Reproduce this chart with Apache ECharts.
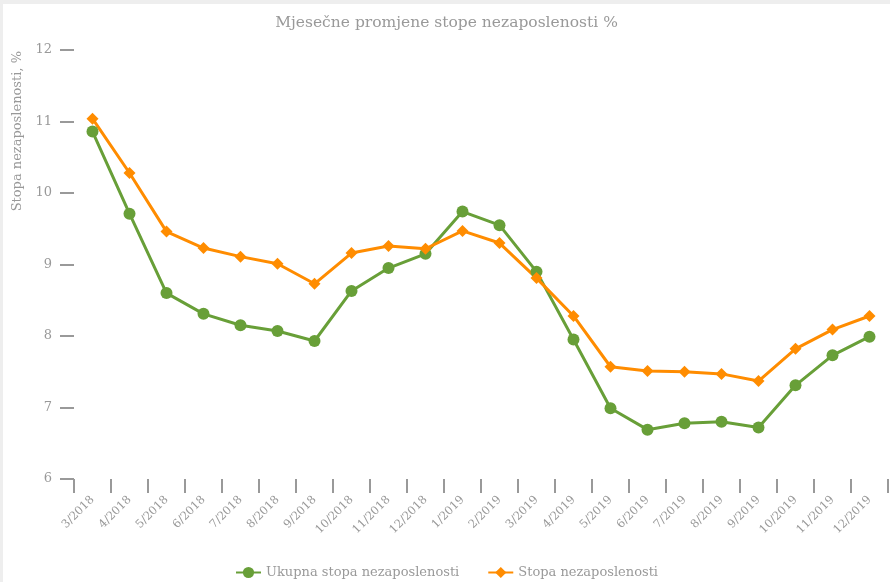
<!DOCTYPE html>
<html lang="hr">
  <head>
    <meta charset="UTF-8" />
    <title>Mjesečne promjene stope nezaposlenosti %</title>
    <style>
      html, body {
        margin: 0;
        padding: 0;
        width: 100%;
        height: 100%;
        overflow: hidden;
        background: #fff;
      }
      #chart {
        width: 100%;
        height: 100%;
        box-sizing: border-box;
        border-left: 3px solid #eeeeee;
        border-top: 4px solid #eeeeee;
      }
    </style>
    <script src="https://cdn.jsdelivr.net/npm/echarts@6/dist/echarts.min.js"></script>
  </head>
  <body>
    <div id="chart"></div>
    <script>
      // mjeseci
      const months = [
        "3/2018", "4/2018", "5/2018", "6/2018", "7/2018", "8/2018", "9/2018",
        "10/2018", "11/2018", "12/2018", "1/2019", "2/2019", "3/2019", "4/2019",
        "5/2019", "6/2019", "7/2019", "8/2019", "9/2019", "10/2019", "11/2019", "12/2019"
      ];
      const ukupnaStopa = [
        10.86, 9.71, 8.60, 8.31, 8.15, 8.07, 7.93, 8.63, 8.95, 9.15, 9.74,
        9.55, 8.90, 7.95, 6.99, 6.69, 6.78, 6.80, 6.72, 7.31, 7.73, 7.99
      ];
      const stopa = [
        11.04, 10.28, 9.46, 9.23, 9.11, 9.01, 8.73, 9.16, 9.26, 9.22, 9.47,
        9.30, 8.81, 8.28, 7.57, 7.51, 7.50, 7.47, 7.37, 7.82, 8.09, 8.28
      ];
      const seriesNames = ["Ukupna stopa nezaposlenosti", "Stopa nezaposlenosti"];

      const font = "DejaVu Serif";
      const grey = "#999";

      const chart = echarts.init(document.getElementById("chart"), null, { renderer: "canvas" });

      const option = {
        animation: false,
        title: {
          text: "Mjesečne promjene stope nezaposlenosti %",
          left: "center",
          top: 6,
          textStyle: { fontFamily: font, fontSize: 15.5, fontWeight: "normal", color: grey }
        },
        legend: {
          data: seriesNames,
          top: 557,
          left: "center",
          itemGap: 28,
          itemWidth: 25,
          itemHeight: 14,
          textStyle: { fontFamily: font, fontSize: 13, color: grey }
        },
        graphic: [
          {
            type: "text",
            left: 8,
            top: 47,
            rotation: Math.PI / 2,
            style: {
              text: "Stopa nezaposlenosti, %",
              font: "13px 'DejaVu Serif'",
              fill: grey
            }
          }
        ],
        grid: { left: 71, right: 2, top: 46, bottom: 103 },
        xAxis: {
          type: "category",
          data: months,
          boundaryGap: true,
          axisLine: { show: false },
          axisTick: { show: true, length: 14, inside: false, lineStyle: { color: grey, width: 2 } },
          axisLabel: { rotate: 45, margin: 19, fontFamily: font, fontSize: 11.5, color: grey, interval: 0 },
          splitLine: { show: false }
        },
        yAxis: {
          type: "value",
          min: 6,
          max: 12,
          interval: 1,
          axisLine: { show: false },
          axisTick: { show: true, length: 14, lineStyle: { color: grey, width: 2 } },
          axisLabel: { margin: 22, fontFamily: font, fontSize: 13, color: grey },
          splitLine: { show: false }
        },
        series: [
          {
            name: seriesNames[0],
            type: "line",
            data: ukupnaStopa,
            symbol: "circle",
            symbolSize: 12,
            color: "#689F38",
            lineStyle: { width: 3, color: "#689F38" },
            itemStyle: { color: "#689F38" }
          },
          {
            name: seriesNames[1],
            type: "line",
            data: stopa,
            symbol: "diamond",
            symbolSize: 12,
            color: "#FF8C00",
            lineStyle: { width: 3, color: "#FF8C00" },
            itemStyle: { color: "#FF8C00" }
          }
        ]
      };

      chart.setOption(option);
      window.addEventListener("resize", function () { chart.resize(); });
    </script>
  </body>
</html>
